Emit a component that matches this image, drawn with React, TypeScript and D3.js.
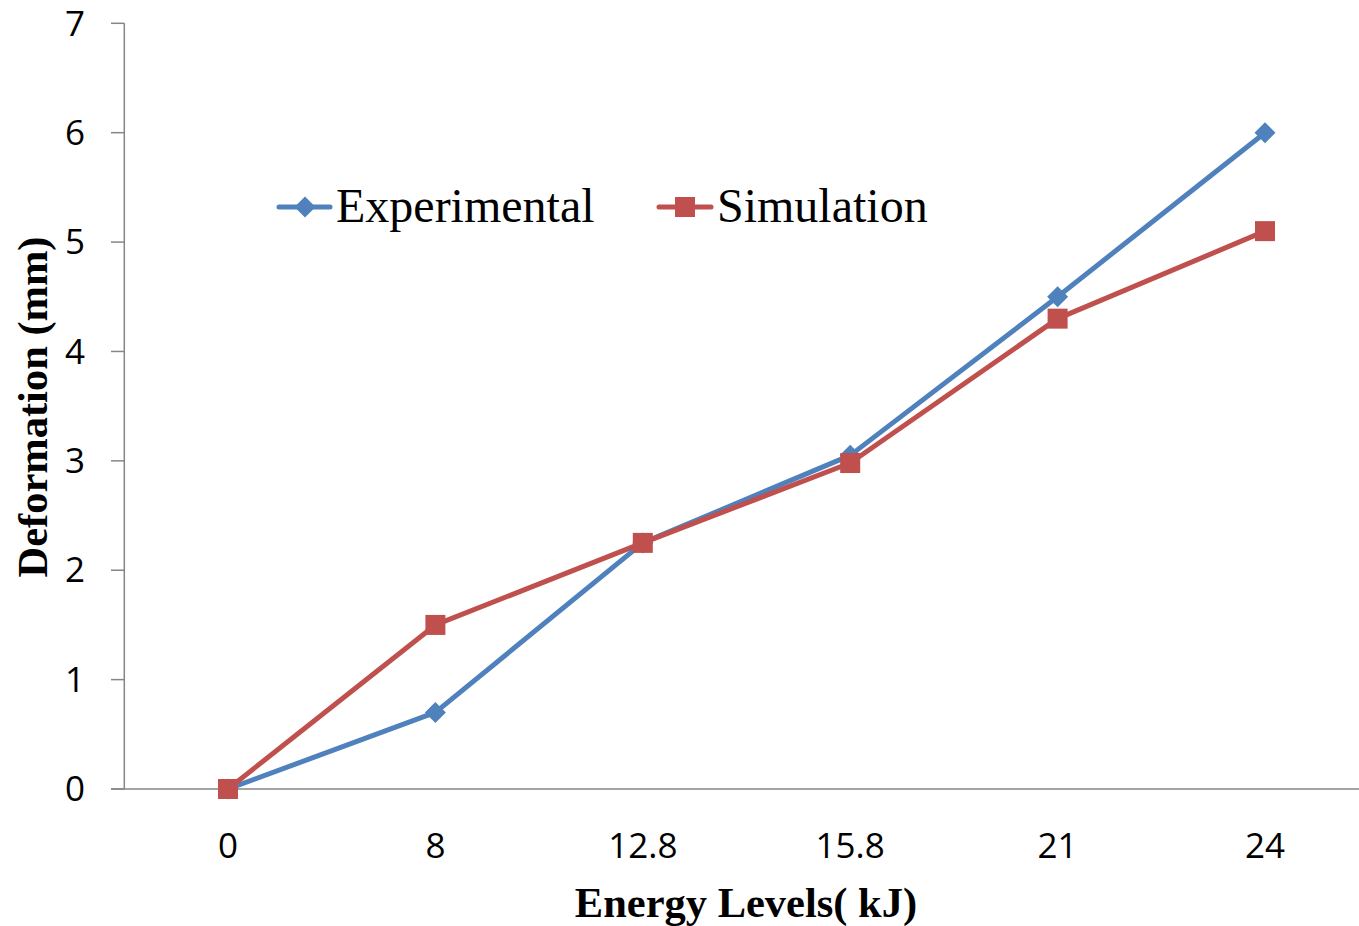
import React from "react";
import * as d3 from "d3";

const categories = ["0", "8", "12.8", "15.8", "21", "24"];
const experimental = [0, 0.7, 2.25, 3.05, 4.5, 6.0];
const simulation = [0, 1.5, 2.25, 2.98, 4.3, 5.1];
const yTicks = [0, 1, 2, 3, 4, 5, 6, 7];

const W = 1359;
const H = 926;
const BLUE = "#4F81BD";
const RED = "#C0504D";
const AXIS = "#868686";

export default function App() {
  const x = d3.scaleBand<string>().domain(categories).range([124.3, 1368.7]);
  const y = d3.scaleLinear().domain([0, 7]).range([789, 23.3]);
  const cx = (c: string) => (x(c) as number) + x.bandwidth() / 2;

  const line = d3
    .line<number>()
    .x((_, i) => cx(categories[i]))
    .y((d) => y(d));

  const diamond = (px: number, py: number, r = 10.5) =>
    `M${px},${py - r}L${px + r},${py}L${px},${py + r}L${px - r},${py}Z`;

  const tickFont = "'Open Sans', 'DejaVu Sans', sans-serif";
  const serif = "'Liberation Serif', 'Times New Roman', serif";

  return (
    <svg
      width={W}
      height={H}
      style={{ position: "absolute", left: 0, top: 0, background: "#fff" }}
    >
      {/* y axis */}
      <line x1={124.3} x2={124.3} y1={y(7)} y2={y(0)} stroke={AXIS} strokeWidth={1.5} />
      {yTicks.map((t) => (
        <g key={t}>
          <line x1={111} x2={124.3} y1={y(t)} y2={y(t)} stroke={AXIS} strokeWidth={1.5} />
          <text
            x={85}
            y={y(t)}
            dy="0.35em"
            textAnchor="end"
            fontFamily={tickFont}
            fontSize={35}
            fill="#000"
          >
            {t}
          </text>
        </g>
      ))}
      {/* x axis */}
      <line x1={111} x2={1368.7} y1={y(0)} y2={y(0)} stroke={AXIS} strokeWidth={1.5} />
      {categories.map((c) => (
        <text
          key={c}
          x={cx(c)}
          y={858}
          textAnchor="middle"
          fontFamily={tickFont}
          fontSize={35}
          fill="#000"
        >
          {c}
        </text>
      ))}

      {/* series */}
      <path d={line(experimental) || ""} fill="none" stroke={BLUE} strokeWidth={5} strokeLinejoin="round" />
      {experimental.map((v, i) => (
        <path key={i} d={diamond(cx(categories[i]), y(v))} fill={BLUE} />
      ))}
      <path d={line(simulation) || ""} fill="none" stroke={RED} strokeWidth={5} strokeLinejoin="round" />
      {simulation.map((v, i) => (
        <rect key={i} x={cx(categories[i]) - 10} y={y(v) - 10} width={20} height={20} fill={RED} />
      ))}

      {/* legend */}
      <line x1={279} x2={330} y1={207} y2={207} stroke={BLUE} strokeWidth={5} strokeLinecap="round" />
      <path d={diamond(305, 207)} fill={BLUE} />
      <text x={336} y={222} fontFamily={serif} fontSize={48} fill="#000">
        Experimental
      </text>
      <line x1={659} x2={711} y1={207} y2={207} stroke={RED} strokeWidth={5} strokeLinecap="round" />
      <rect x={675} y={197} width={20} height={20} fill={RED} />
      <text x={717} y={222} fontFamily={serif} fontSize={48} fill="#000">
        Simulation
      </text>

      {/* axis titles */}
      <text
        x={746}
        y={917}
        textAnchor="middle"
        fontFamily={serif}
        fontWeight="bold"
        fontSize={42.5}
        fill="#000"
      >
        Energy Levels( kJ)
      </text>
      <text
        transform="translate(47,407) rotate(-90)"
        textAnchor="middle"
        fontFamily={serif}
        fontWeight="bold"
        fontSize={42.5}
        fill="#000"
      >
        Deformation (mm)
      </text>
    </svg>
  );
}
